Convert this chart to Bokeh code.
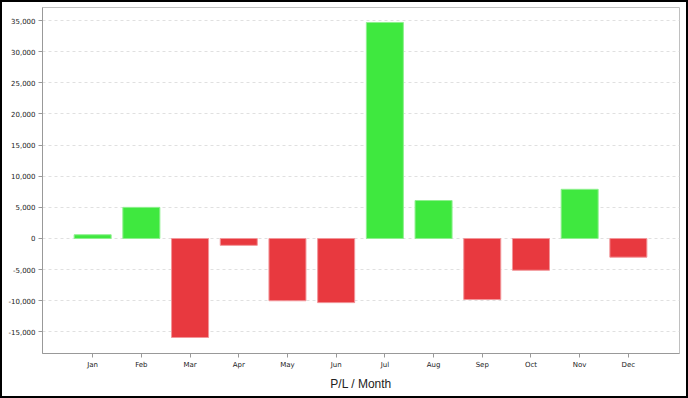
from bokeh.plotting import figure
from bokeh.layouts import column
from bokeh.models import ColumnDataSource, FixedTicker, NumeralTickFormatter, Range1d
from bokeh.embed import file_html
from bokeh.resources import INLINE

months = ["Jan", "Feb", "Mar", "Apr", "May", "Jun", "Jul", "Aug", "Sep", "Oct", "Nov", "Dec"]
pl = [600, 5000, -15900, -1100, -10000, -10300, 34700, 6100, -9800, -5100, 7900, -3000]
y_ticks = [-15000, -10000, -5000, 0, 5000, 10000, 15000, 20000, 25000, 30000, 35000]

GREEN = "#3fe83f"
RED = "#e8393f"
GREEN_EDGE = "#8ff08f"
RED_EDGE = "#f29599"

xs = list(range(len(months)))
colors = [GREEN if v >= 0 else RED for v in pl]
edges = [GREEN_EDGE if v >= 0 else RED_EDGE for v in pl]
src = ColumnDataSource(dict(x=xs, top=pl, bottom=[0] * len(pl), color=colors, edge=edges))

fig = figure(frame_width=637, frame_height=346, output_backend="svg", toolbar_location=None,
             x_range=Range1d(-1.03, 12.05), y_range=Range1d(-18470, 37100),
             min_border_left=40, min_border_right=7, min_border_top=5, min_border_bottom=43)

fig.vbar(x="x", top="top", bottom="bottom", width=0.76, source=src,
         fill_color="color", line_color="edge", line_width=1)

fig.outline_line_color = "#c0c0c0"
fig.outline_line_width = 1
fig.background_fill_color = "white"
fig.border_fill_color = "white"

fig.xgrid.grid_line_color = None
fig.ygrid.grid_line_color = "#e0e0e0"
fig.ygrid.grid_line_dash = "3 3"

fig.yaxis.ticker = FixedTicker(ticks=y_ticks)
fig.yaxis.formatter = NumeralTickFormatter(format="0,0")
fig.xaxis.ticker = FixedTicker(ticks=xs)
fig.xaxis.major_label_overrides = {i: m for i, m in enumerate(months)}

for ax in (fig.xaxis, fig.yaxis):
    ax.axis_line_color = "#999999"
    ax.major_tick_line_color = "#999999"
    ax.minor_tick_line_color = None
    ax.major_tick_in = 0
    ax.major_tick_out = 4
    ax.major_label_text_font = "DejaVu Sans"
    ax.major_label_text_font_size = "7px"
    ax.major_label_text_color = "#222222"
    ax.major_label_standoff = 3

fig.xaxis.axis_label = "P/L / Month"
fig.xaxis.axis_label_text_font = "Liberation Sans"
fig.xaxis.axis_label_text_font_size = "12px"
fig.xaxis.axis_label_text_font_style = "normal"
fig.xaxis.axis_label_text_color = "#222222"
fig.xaxis.axis_label_standoff = 5

p = column(fig, styles={"border": "2px solid black"})

open("out.html", "w").write(file_html(p, INLINE))
